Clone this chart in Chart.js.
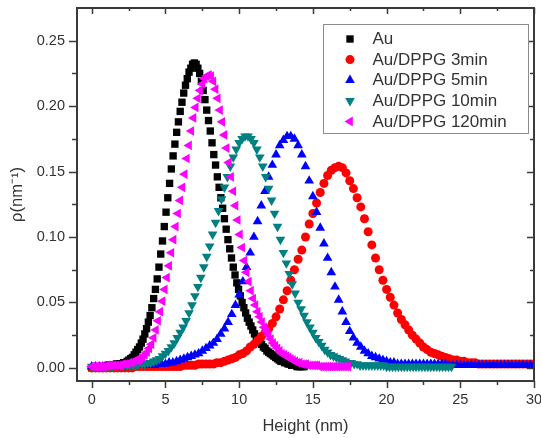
<!DOCTYPE html>
<html>
<head>
<meta charset="utf-8">
<title>Density profiles</title>
<script src="https://cdn.jsdelivr.net/npm/chart.js@4.4.0/dist/chart.umd.min.js"></script>
<style>
  html, body { margin: 0; padding: 0; background: #fff; }
  #chart { display: block; }
</style>
</head>
<body>
<canvas id="chart" width="541" height="438"></canvas>
<script>
// Height grid spacing (nm) of each profile; every profile starts at 0 nm
const auStep = 0.12;
const dppg3Step = 0.25;
const dppg5Step = 0.25;
const dppg10Step = 0.2;
const dppg120Step = 0.15;

// Density profiles rho (nm^-1)
const auRho = [
  0.000, 0.000, 0.000, 0.001, 0.001, 0.001, 0.001, 0.001, 0.001, 0.002, 0.002, 0.002, 0.002, 0.002, 0.003, 0.003,
  0.003, 0.003, 0.004, 0.004, 0.005, 0.006, 0.007, 0.008, 0.010, 0.012,
  0.014, 0.016, 0.019, 0.022, 0.026, 0.030, 0.035, 0.040, 0.046, 0.053,
  0.060, 0.068, 0.077, 0.087, 0.097, 0.108, 0.119, 0.130, 0.141, 0.152,
  0.162, 0.171, 0.180, 0.188, 0.196, 0.203, 0.210, 0.216, 0.221, 0.226,
  0.229, 0.232, 0.233, 0.232, 0.229, 0.225, 0.219, 0.212, 0.205, 0.197,
  0.189, 0.181, 0.172, 0.163, 0.155, 0.146, 0.138, 0.130, 0.122, 0.114,
  0.106, 0.098, 0.091, 0.084, 0.077, 0.071, 0.065, 0.060, 0.055, 0.050,
  0.046, 0.042, 0.038, 0.035, 0.032, 0.029, 0.026, 0.024, 0.022, 0.020,
  0.018, 0.016, 0.015, 0.013, 0.012, 0.011, 0.010, 0.009, 0.008, 0.007,
  0.006, 0.005, 0.005, 0.004, 0.004, 0.003, 0.003, 0.002, 0.002, 0.002,
  0.001, 0.001, 0.001, 0.001, 0.001
];
const dppg3Rho = [
  0.000, 0.000, 0.000, 0.000, 0.000, 0.000, 0.000, 0.000, 0.000, 0.000, 0.000, 0.000,
  0.001, 0.001, 0.001, 0.001, 0.001, 0.001, 0.001, 0.001, 0.001,
  0.001, 0.001, 0.001, 0.001, 0.002, 0.002, 0.002, 0.002, 0.003, 0.003,
  0.003, 0.003, 0.003, 0.004, 0.004, 0.005, 0.006, 0.007, 0.008, 0.010,
  0.011, 0.013, 0.016, 0.018, 0.021, 0.024, 0.027, 0.030, 0.034, 0.039,
  0.045, 0.052, 0.059, 0.067, 0.075, 0.083, 0.090, 0.100, 0.110, 0.118,
  0.126, 0.134, 0.141, 0.147, 0.151, 0.153, 0.154, 0.153, 0.149, 0.143,
  0.137, 0.130, 0.123, 0.114, 0.104, 0.094, 0.084, 0.075, 0.067, 0.060,
  0.054, 0.048, 0.042, 0.037, 0.033, 0.029, 0.025, 0.022, 0.019, 0.016,
  0.014, 0.012, 0.011, 0.010, 0.009, 0.008, 0.007, 0.006, 0.006, 0.005,
  0.005, 0.004, 0.004, 0.004,
  0.003, 0.003, 0.003, 0.003, 0.003, 0.003, 0.003, 0.003, 0.003, 0.003, 0.003, 0.003, 0.003, 0.003, 0.003, 0.003
];
const dppg5Rho = [
  0.001, 0.001, 0.001, 0.001, 0.001, 0.001, 0.001, 0.001, 0.001,
  0.002, 0.002, 0.002, 0.002, 0.002, 0.002, 0.002, 0.002,
  0.002, 0.003, 0.003, 0.003, 0.004, 0.004, 0.005, 0.006, 0.007, 0.008,
  0.009, 0.010, 0.011, 0.013, 0.015, 0.017, 0.019, 0.022, 0.026, 0.030,
  0.035, 0.041, 0.048, 0.056, 0.066, 0.077, 0.088, 0.100, 0.112, 0.124,
  0.135, 0.146, 0.155, 0.163, 0.170, 0.174, 0.177, 0.177, 0.175, 0.170,
  0.163, 0.154, 0.143, 0.131, 0.119, 0.107, 0.095, 0.084, 0.073, 0.062,
  0.052, 0.043, 0.035, 0.028, 0.023, 0.019, 0.016, 0.013, 0.011, 0.009,
  0.008, 0.007, 0.006, 0.005, 0.004, 0.004, 0.003, 0.003,
  0.003, 0.003, 0.003, 0.003, 0.003, 0.003, 0.003, 0.003, 0.003, 0.003, 0.003, 0.003,
  0.002, 0.002, 0.002, 0.002, 0.002, 0.002, 0.002, 0.002, 0.002, 0.002, 0.002, 0.002,
  0.002, 0.002, 0.002, 0.002, 0.002, 0.002, 0.002, 0.002, 0.002, 0.002, 0.002, 0.002
];
const dppg10Rho = [
  0.001, 0.001, 0.001, 0.001, 0.001, 0.001, 0.001, 0.001,
  0.002, 0.002, 0.002, 0.002, 0.002, 0.002, 0.002,
  0.002, 0.003, 0.003, 0.003, 0.004, 0.004, 0.005, 0.006, 0.007, 0.009,
  0.011, 0.013, 0.016, 0.019, 0.023, 0.027, 0.031, 0.036, 0.042, 0.048,
  0.055, 0.062, 0.069, 0.077, 0.085, 0.093, 0.102, 0.111, 0.120, 0.129,
  0.138, 0.146, 0.154, 0.161, 0.167, 0.172, 0.175, 0.177, 0.177, 0.175,
  0.172, 0.167, 0.161, 0.154, 0.146, 0.137, 0.128, 0.118, 0.108, 0.098,
  0.088, 0.080, 0.072, 0.064, 0.057, 0.050, 0.045, 0.040, 0.035, 0.031,
  0.027, 0.023, 0.020, 0.017, 0.014, 0.012, 0.010, 0.009, 0.008, 0.007,
  0.006, 0.005, 0.004, 0.004, 0.003, 0.003,
  0.002, 0.002, 0.002, 0.002, 0.002, 0.002, 0.002, 0.002, 0.002,
  0.001, 0.001, 0.001, 0.001, 0.001, 0.001, 0.001, 0.001, 0.001, 0.001, 0.001, 0.001,
  0.001, 0.001, 0.001, 0.001, 0.001, 0.001, 0.001, 0.001, 0.001, 0.001, 0.001
];
const dppg120Rho = [
  0.001, 0.001, 0.001, 0.001, 0.001, 0.001, 0.001, 0.002, 0.002, 0.002, 0.002, 0.002, 0.002, 0.002,
  0.003, 0.003, 0.003, 0.004, 0.004, 0.005, 0.006, 0.006, 0.007, 0.008,
  0.010, 0.012, 0.015, 0.018, 0.023, 0.029, 0.036, 0.043, 0.051, 0.060,
  0.069, 0.078, 0.088, 0.098, 0.108, 0.118, 0.128, 0.138, 0.148, 0.160,
  0.170, 0.181, 0.191, 0.199, 0.206, 0.212, 0.217, 0.221, 0.223, 0.224,
  0.223, 0.219, 0.213, 0.206, 0.197, 0.188, 0.178, 0.168, 0.157, 0.146,
  0.135, 0.124, 0.113, 0.102, 0.092, 0.082, 0.073, 0.066, 0.059, 0.053,
  0.048, 0.043, 0.039, 0.035, 0.031, 0.028, 0.025, 0.022, 0.019, 0.017,
  0.015, 0.013, 0.011, 0.010, 0.009, 0.008, 0.007, 0.006, 0.005, 0.004,
  0.004, 0.003, 0.003, 0.003, 0.002, 0.002, 0.002,
  0.002, 0.002, 0.001, 0.001, 0.001, 0.001, 0.001, 0.001, 0.001, 0.001, 0.001, 0.001, 0.001, 0.001, 0.001, 0.001
];

// Axis ticks
const xMajor = [0, 5, 10, 15, 20, 25, 30];
const xMinor = [2.5, 7.5, 12.5, 17.5, 22.5, 27.5];
const yMajor = [0, 0.05, 0.10, 0.15, 0.20, 0.25];
const yMinor = [0.025, 0.075, 0.125, 0.175, 0.225];

const FONT = "Arial, 'Liberation Sans', sans-serif";
const TEXT = '#333333';

const series = [
  { label: 'Au', step: auStep, rho: auRho, color: '#000000', style: 'rect', radius: 5.2, rotation: 0 },
  { label: 'Au/DPPG 3min', step: dppg3Step, rho: dppg3Rho, color: '#ff0000', style: 'circle', radius: 4.5, rotation: 0 },
  { label: 'Au/DPPG 5min', step: dppg5Step, rho: dppg5Rho, color: '#0000ff', style: 'triangle', radius: 5.6, rotation: 0 },
  { label: 'Au/DPPG 10min', step: dppg10Step, rho: dppg10Rho, color: '#008080', style: 'triangle', radius: 5.6, rotation: 180 },
  { label: 'Au/DPPG 120min', step: dppg120Step, rho: dppg120Rho, color: '#ff00ff', style: 'triangle', radius: 5.6, rotation: 270 }
];

const datasets = series.map((s, i) => ({
  label: s.label,
  data: s.rho.map((r, k) => ({ x: +(k * s.step).toFixed(3), y: r })),
  backgroundColor: s.color,
  borderColor: s.color,
  pointStyle: s.style,
  pointRadius: s.radius,
  pointRotation: s.rotation,
  pointBorderWidth: 0,
  showLine: false,
  // later profiles are drawn on top
  order: series.length - i
}));

// Box frame with ticks on all four sides (outer on bottom/left, inner on top/right)
const frameTicks = {
  id: 'frameTicks',
  afterDatasetsDraw(chart) {
    const { ctx, chartArea: a, scales: { x, y } } = chart;
    ctx.save();
    ctx.strokeStyle = '#3a3a3a';
    ctx.lineWidth = 1.5;
    ctx.beginPath();
    const xt = (v, len) => {
      const px = Math.round(x.getPixelForValue(v)) + 0.5;
      ctx.moveTo(px, a.bottom); ctx.lineTo(px, a.bottom + len);
      ctx.moveTo(px, a.top); ctx.lineTo(px, a.top + len - 1);
    };
    const yt = (v, len) => {
      const py = Math.round(y.getPixelForValue(v)) + 0.5;
      ctx.moveTo(a.left, py); ctx.lineTo(a.left - len, py);
      ctx.moveTo(a.right, py); ctx.lineTo(a.right - len + 1, py);
    };
    xMajor.forEach(v => xt(v, 7));
    xMinor.forEach(v => xt(v, 4));
    yMajor.forEach(v => yt(v, 8));
    yMinor.forEach(v => yt(v, 5));
    ctx.stroke();
    ctx.lineWidth = 2;
    ctx.strokeRect(a.left, a.top, a.right - a.left, a.bottom - a.top);
    ctx.restore();
  }
};

// Framed legend in the upper right of the plot
const boxLegend = {
  id: 'boxLegend',
  afterDraw(chart) {
    const { ctx, chartArea: a } = chart;
    const w = 205, h = 109;
    const left = a.right - 6 - w, top = a.top + 16;
    ctx.save();
    ctx.fillStyle = '#ffffff';
    ctx.fillRect(left, top, w, h);
    ctx.strokeStyle = '#8c8c8c';
    ctx.lineWidth = 1;
    ctx.strokeRect(left + 0.5, top + 0.5, w, h);
    ctx.font = '17px ' + FONT;
    ctx.textBaseline = 'middle';
    chart.data.datasets.forEach((ds, i) => {
      const cy = top + 15 + i * 20.6;
      ctx.fillStyle = ds.backgroundColor;
      Chart.helpers.drawPoint(ctx, {
        pointStyle: ds.pointStyle, radius: ds.pointRadius, rotation: ds.pointRotation, borderWidth: 0
      }, left + 27, cy);
      ctx.fillStyle = TEXT;
      ctx.fillText(ds.label, left + 49.5, cy + 0.5);
    });
    ctx.restore();
  }
};

new Chart(document.getElementById('chart'), {
  type: 'scatter',
  data: { datasets: datasets },
  plugins: [frameTicks, boxLegend],
  options: {
    responsive: false,
    animation: false,
    devicePixelRatio: 1,
    layout: { padding: { left: 0, top: 8, right: 7, bottom: 0 } },
    plugins: { legend: { display: false }, tooltip: { enabled: false } },
    scales: {
      x: {
        type: 'linear',
        min: -1,
        max: 30,
        afterBuildTicks: s => { s.ticks = xMajor.map(v => ({ value: v })); },
        afterFit: s => { s.height = 57; s.paddingLeft = 0; s.paddingRight = 0; },
        grid: { display: false, drawTicks: false },
        border: { display: false },
        ticks: { color: TEXT, font: { size: 14.5, family: FONT }, padding: 10, maxRotation: 0 },
        title: {
          display: true, text: 'Height (nm)', color: TEXT,
          font: { size: 16.5, family: FONT }, padding: { top: 0, bottom: 2 }
        }
      },
      y: {
        type: 'linear',
        min: -0.01,
        max: 0.275,
        afterBuildTicks: s => { s.ticks = yMajor.map(v => ({ value: v })); },
        afterFit: s => { s.width = 77; s.paddingTop = 0; s.paddingBottom = 0; },
        grid: { display: false, drawTicks: false },
        border: { display: false },
        ticks: {
          color: TEXT, font: { size: 14.5, family: FONT }, padding: 12,
          callback: v => v.toFixed(2)
        },
        title: {
          display: true, text: 'ρ(nm⁻¹)', color: TEXT,
          font: { size: 16.5, family: FONT }, padding: { top: 7.5, bottom: 0 }
        }
      }
    }
  }
});
</script>
</body>
</html>
